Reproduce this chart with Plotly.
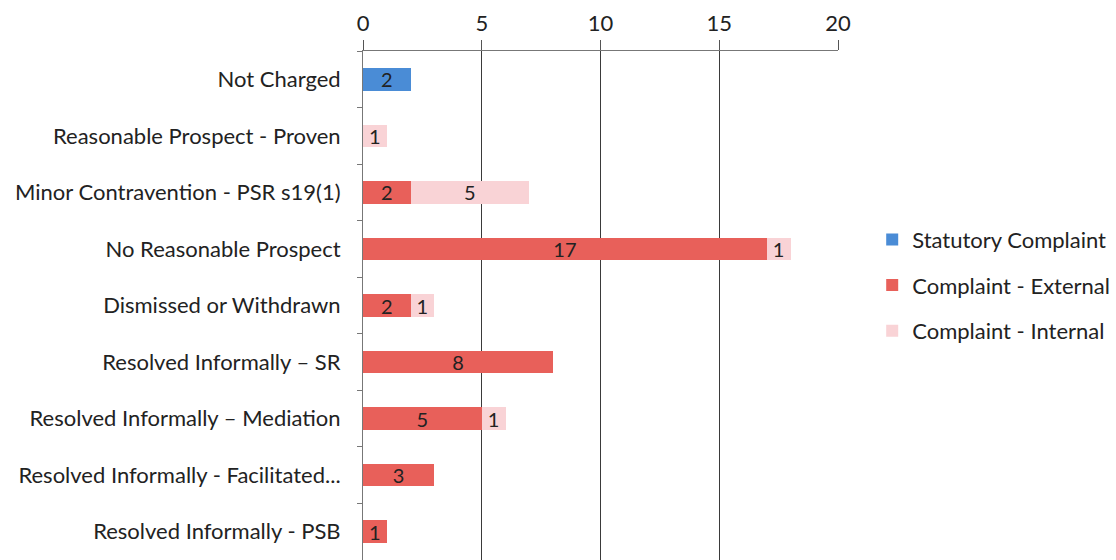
import plotly.graph_objects as go

categories = [
    "Not Charged",
    "Reasonable Prospect - Proven",
    "Minor Contravention - PSR s19(1)",
    "No Reasonable Prospect",
    "Dismissed or Withdrawn",
    "Resolved Informally – SR",
    "Resolved Informally – Mediation",
    "Resolved Informally - Facilitated...",
    "Resolved Informally - PSB",
]
statutory = [2, None, None, None, None, None, None, None, None]
external = [None, None, 2, 17, 2, 8, 5, 3, 1]
internal = [None, 1, 5, 1, 1, None, 1, None, None]
x_ticks = [0, 5, 10, 15, 20]

series = [
    ("Statutory Complaint", statutory, "#4a8cd6"),
    ("Complaint - External", external, "#e8605a"),
    ("Complaint - Internal", internal, "#f9d3d6"),
]

FONT = "Lato, sans-serif"

fig = go.Figure()
for i, (name, vals, col) in enumerate(series):
    fig.add_trace(go.Bar(
        y=categories, x=vals, name=name, orientation="h",
        marker=dict(color=col, line=dict(width=0)),
        text=[("" if v is None else str(v)) for v in vals],
        textposition="inside", insidetextanchor="middle", textangle=0,
        constraintext="none",
        textfont=dict(family=FONT, size=20, color="#222222"),
        legendgroup="g%d" % i,
        cliponaxis=False,
    ))

fig.update_layout(
    barmode="stack",
    bargap=0.6,
    width=1116, height=560,
    margin=dict(l=363, r=278, t=51, b=0),
    paper_bgcolor="white", plot_bgcolor="white",
    font=dict(family=FONT, size=20, color="#222222"),
    legend=dict(
        x=1.072, y=0.54, xanchor="left", yanchor="middle",
        font=dict(family=FONT, size=22, color="#222222"),
        tracegroupgap=14, traceorder="grouped",
        itemwidth=30,
        bgcolor="rgba(0,0,0,0)",
    ),
    xaxis=dict(
        side="top", range=[0, 20], tickvals=x_ticks,
        showgrid=True, gridcolor="#3a3a3a", gridwidth=1,
        showline=True, linecolor="#777777", linewidth=1,
        ticks="outside", ticklen=10, tickcolor="#555555",
        tickfont=dict(family=FONT, size=22, color="#222222"),
        zeroline=False, fixedrange=True,
    ),
    yaxis=dict(
        autorange="reversed",
        showline=True, linecolor="#777777", linewidth=1,
        ticks="outside", ticklen=5, tickcolor="#777777",
        tickson="boundaries",
        ticklabelstandoff=17,
        tickfont=dict(family=FONT, size=22, color="#222222"),
        showgrid=False,
    ),
)

fig.write_html("out.html")
